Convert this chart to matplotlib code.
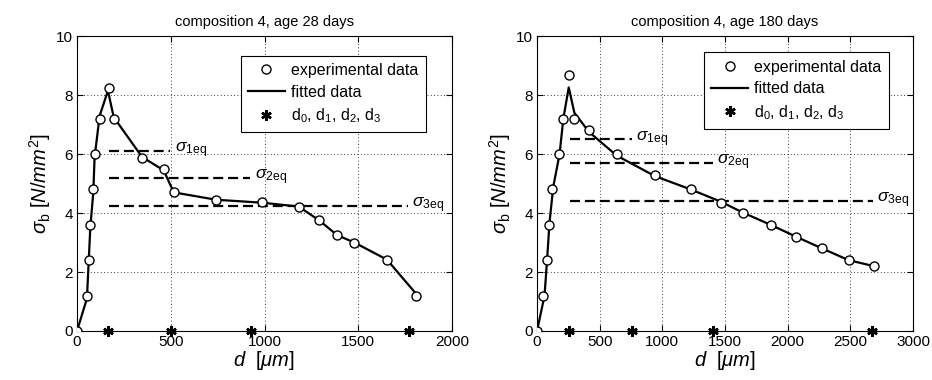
import numpy as np
import matplotlib.pyplot as plt

plt.rcParams['font.family'] = ['Liberation Sans', 'DejaVu Sans']
plt.rcParams['mathtext.fontset'] = 'custom'
plt.rcParams['mathtext.rm'] = 'Liberation Sans'
plt.rcParams['mathtext.it'] = 'Liberation Sans:italic'
plt.rcParams['mathtext.bf'] = 'Liberation Sans:bold'

# --- composition 4, age 28 days ---
d28 = [0, 53, 62, 71, 87, 94, 121, 171, 196, 347, 462, 516, 743, 988, 1182, 1292, 1387, 1479, 1653, 1810]
s28 = [0, 1.2, 2.4, 3.6, 4.8, 6.0, 7.2, 8.25, 7.2, 5.85, 5.5, 4.7, 4.44, 4.36, 4.21, 3.75, 3.24, 3.0, 2.4, 1.2]
fit_d28 = [0, 53, 62, 71, 87, 94, 121, 165, 196, 347, 462, 516, 743, 988, 1182, 1292, 1387, 1479, 1653, 1810]
fit_s28 = [0, 1.1, 2.3, 3.5, 4.7, 5.9, 7.3, 8.15, 7.25, 5.9, 5.45, 4.7, 4.45, 4.35, 4.22, 3.75, 3.25, 3.0, 2.42, 1.25]
dk28 = [164, 503, 930, 1769]
eq28 = [6.1, 5.2, 4.25]
eq_end28 = [498, 924, 1764]
eq_start28 = 169

# --- composition 4, age 180 days ---
d180 = [0, 48, 77, 98, 120, 176, 205, 258, 298, 415, 635, 942, 1227, 1469, 1640, 1864, 2066, 2274, 2488, 2687]
s180 = [0, 1.2, 2.4, 3.6, 4.8, 6.0, 7.2, 8.67, 7.2, 6.8, 6.0, 5.28, 4.8, 4.35, 4.0, 3.6, 3.18, 2.8, 2.4, 2.2]
fit_d180 = [0, 60, 80, 100, 130, 180, 210, 253, 298, 415, 635, 942, 1227, 1469, 1640, 1864, 2066, 2274, 2488, 2687]
fit_s180 = [0, 1.2, 2.4, 3.7, 4.9, 6.0, 7.2, 8.26, 7.4, 6.75, 5.95, 5.25, 4.8, 4.38, 4.02, 3.6, 3.2, 2.8, 2.4, 2.2]
dk180 = [255, 761, 1403, 2675]
eq180 = [6.5, 5.7, 4.4]
eq_end180 = [756, 1403, 2680]
eq_start180 = 261

panels = [
    dict(d=d28, s=s28, fd=fit_d28, fs=fit_s28, dk=dk28, eq=eq28, e0=eq_start28, e1=eq_end28,
         xmax=2000, title='composition 4, age 28 days', rect=[0.0826, 0.129, 0.4024, 0.776],
         anchor=(0.951, 0.96)),
    dict(d=d180, s=s180, fd=fit_d180, fs=fit_s180, dk=dk180, eq=eq180, e0=eq_start180, e1=eq_end180,
         xmax=3000, title='composition 4, age 180 days', rect=[0.5762, 0.129, 0.4034, 0.776],
         anchor=(0.957, 0.972)),
]

fig = plt.figure(figsize=(9.32, 3.8), dpi=100)

for p in panels:
    ax = fig.add_axes(p['rect'])
    ax.plot(p['d'], p['s'], 'o', mfc='white', mec='black', ms=6.5, mew=1.0,
            label='experimental data', zorder=4)
    ax.plot(p['fd'], p['fs'], '-', color='black', lw=1.6, label='fitted data', zorder=3)
    ax.plot(p['dk'], [0] * len(p['dk']), linestyle='none', marker=(6, 2, 0), color='black',
            ms=7.5, mew=1.8, label=r'd$_\mathrm{0}$, d$_\mathrm{1}$, d$_\mathrm{2}$, d$_\mathrm{3}$',
            zorder=5, clip_on=False)
    for i, (lev, end) in enumerate(zip(p['eq'], p['e1'])):
        ax.plot([p['e0'], end], [lev, lev], color='black', lw=1.6, dashes=(4.5, 2.2), zorder=2)
        ax.text(end + p['xmax'] * 0.012, lev + 0.02, r'$\sigma_{\mathrm{%deq}}$' % (i + 1),
                fontsize=12.5, va='center', ha='left')
    ax.set_xlim(0, p['xmax'])
    ax.set_ylim(0, 10)
    ax.set_xticks(np.arange(0, p['xmax'] + 1, 500))
    ax.set_yticks(np.arange(0, 11, 2))
    ax.grid(True, color='black', linestyle=(0, (1, 3)), lw=0.6)
    ax.tick_params(direction='in', top=True, right=True, labelsize=11, length=4, pad=3)
    for sp in ax.spines.values():
        sp.set_linewidth(0.8)
    ax.set_title(p['title'], fontsize=10.5, pad=7)
    ax.set_xlabel(r'$d$  [$\mu m$]', fontsize=14.5, labelpad=0)
    ax.set_ylabel(r'$\sigma_\mathrm{b}$ [$N/mm^2$]', fontsize=14.5, labelpad=2)
    leg = ax.legend(loc='upper right', bbox_to_anchor=p['anchor'], fancybox=False,
                    edgecolor='black', framealpha=1, fontsize=11.5, handlelength=2.3,
                    borderpad=0.45, labelspacing=0.42, handletextpad=0.4)
    leg.get_frame().set_linewidth(0.8)

fig.savefig('out.png', dpi=100)
